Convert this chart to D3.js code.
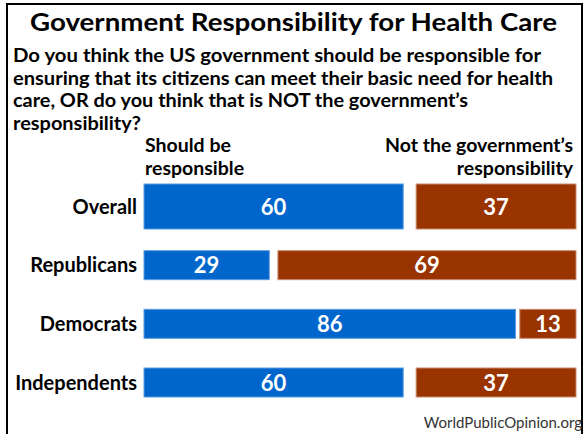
<!DOCTYPE html>
<html><head><meta charset="utf-8">
<script src="https://cdn.jsdelivr.net/npm/d3@7"></script>
<style>
html,body{margin:0;padding:0;background:#fff;}
svg{display:block;}
text{font-family:Lato,"Open Sans",sans-serif;}
</style></head>
<body>
<script>
const categories = ["Overall", "Republicans", "Democrats", "Independents"];
const shouldBe = [60, 29, 86, 60];
const notGov = [37, 69, 13, 37];
const seriesNames = [["Should be", "responsible"], ["Not the government\u2019s", "responsibility"]];
const title = "Government Responsibility for Health Care";
const question = [
  "Do you think the US government should be responsible for",
  "ensuring that its citizens can meet their basic need for health",
  "care, OR do you think that is NOT the government\u2019s",
  "responsibility?"
];
const source = "WorldPublicOpinion.org";

const W = 585, H = 434;
const svg = d3.select("body").append("svg").attr("width", W).attr("height", H);

// frame
svg.append("rect").attr("x", 7).attr("y", 4).attr("width", 575).attr("height", 500)
  .attr("fill", "none").attr("stroke", "#000").attr("stroke-width", 2);

// title
svg.append("text").attr("x", 293.5).attr("y", 31).attr("text-anchor", "middle")
  .attr("font-size", 25).attr("font-weight", "bold").attr("fill", "#000")
  .attr("textLength", 527).attr("lengthAdjust", "spacingAndGlyphs").text(title);

const qWidths = [528, 540, 455, 128];
question.forEach((q, i) => {
  svg.append("text").attr("x", 13).attr("y", 62 + i * 22.5)
    .attr("font-size", 18.5).attr("font-weight", "bold").attr("fill", "#000")
    .attr("textLength", qWidths[i]).attr("lengthAdjust", "spacingAndGlyphs").text(q);
});

const x = d3.scaleLinear().domain([0, 100]).range([144, 576]);
const y = d3.scalePoint().domain(categories).range([206.5, 382.5]);
const barH = d => d === "Overall" ? 45 : 29;

// series headers
seriesNames[0].forEach((t, i) => {
  svg.append("text").attr("x", x(0) + 1).attr("y", 152 + i * 23)
    .attr("font-size", 19.5).attr("font-weight", "bold").attr("fill", "#000").text(t);
});
seriesNames[1].forEach((t, i) => {
  svg.append("text").attr("x", x(100) - 3).attr("y", 152 + i * 23).attr("text-anchor", "end")
    .attr("font-size", 19.5).attr("font-weight", "bold").attr("fill", "#000").text(t);
});

const rows = categories.map((c, i) => ({c, a: shouldBe[i], b: notGov[i]}));

const g = svg.append("g");
// blue bars
g.selectAll(".blue").data(rows).join("rect")
  .attr("x", x(0)).attr("y", d => y(d.c) - barH(d.c) / 2)
  .attr("width", d => x(d.a) - x(0)).attr("height", d => barH(d.c))
  .attr("fill", "#0066cc").attr("stroke", "#5c9be0").attr("stroke-width", 1);
// red bars, right-aligned
g.selectAll(".red").data(rows).join("rect")
  .attr("x", d => x(100 - d.b)).attr("y", d => y(d.c) - barH(d.c) / 2)
  .attr("width", d => x(100) - x(100 - d.b)).attr("height", d => barH(d.c))
  .attr("fill", "#993300").attr("stroke", "#c98a6e").attr("stroke-width", 1);

// value labels
g.selectAll(".va").data(rows).join("text")
  .attr("x", d => (x(0) + x(d.a)) / 2).attr("y", d => y(d.c) + 8)
  .attr("text-anchor", "middle").attr("font-size", 22).attr("font-weight", "bold")
  .attr("fill", "#fff").text(d => d.a);
g.selectAll(".vb").data(rows).join("text")
  .attr("x", d => (x(100 - d.b) + x(100)) / 2).attr("y", d => y(d.c) + 8)
  .attr("text-anchor", "middle").attr("font-size", 22).attr("font-weight", "bold")
  .attr("fill", "#fff").text(d => d.b);

// category labels
g.selectAll(".cat").data(rows).join("text")
  .attr("x", 137).attr("y", d => y(d.c) + 7).attr("text-anchor", "end")
  .attr("font-size", 20).attr("font-weight", "bold").attr("fill", "#000").text(d => d.c);

// source
svg.append("text").attr("x", 582).attr("y", 428).attr("text-anchor", "end")
  .attr("font-size", 15).attr("fill", "#333").text(source);
</script>
</body></html>
